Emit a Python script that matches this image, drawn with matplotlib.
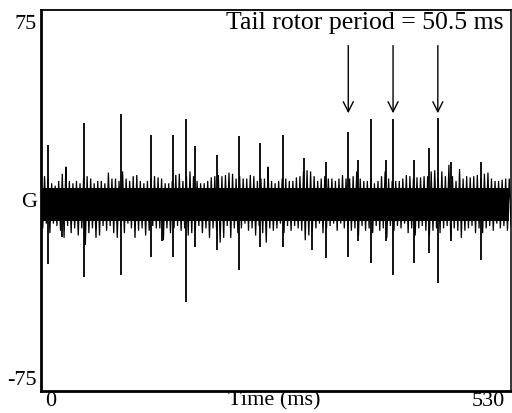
import numpy as np
import matplotlib
matplotlib.use("Agg")
import matplotlib.pyplot as plt
from matplotlib.transforms import ScaledTranslation

# ---- recorded signal (amplitude units, time in ms) ----
# background noise: upper / lower extent every 4 ms
noise_t = np.arange(0, 529, 4)
noise_hi = [9, 10, 9, 7, 6, 8, 11, 14, 8, 7, 8, 7, 9, 10, 9, 7, 8, 8, 7, 11.5,
            9, 9, 8, 12, 9, 8, 10, 10.5, 8, 7, 8, 9, 10,
            9.5, 9, 7, 7, 8, 10.5, 11, 8, 10, 12, 10, 8, 7, 7, 8, 9.5, 10, 10.5,
            10, 10.5, 11.5, 11, 9, 10, 9, 9, 10.5, 10, 8, 9, 9, 14, 8,
            7, 8, 9, 9, 8, 8, 9.5, 10, 12, 12.5, 12, 10, 8, 9, 10, 9, 9, 8, 9,
            10.5, 9, 9, 10, 12, 9, 8, 8, 9, 7, 8, 10, 12, 9,
            8, 8, 8, 9, 10.5, 10, 9, 9.5, 9.5, 10, 10, 12, 12.5, 9, 12, 10, 14.8,
            10, 8, 13, 9, 10, 9.5, 10, 10.5, 9, 11, 11.5, 9, 8, 8, 8.5, 9, 9]
noise_lo = [-12, -10, -14, -10, -11, -13, -16, -11, -14, -12, -15, -12, -19,
            -14, -12, -16, -15, -11, -13, -11, -14, -16, -11, -14, -10, -12,
            -16, -13, -12, -15, -13, -11, -12,
            -12, -17, -12, -14, -12, -11, -13, -12, -15, -14, -13, -11, -14,
            -12, -16, -12, -13, -18, -16, -11, -16, -12, -14, -12, -10, -13,
            -12, -15, -11, -14, -18, -12, -13,
            -12, -10, -14, -11, -13, -11, -12, -13, -17, -15, -13, -12, -10,
            -14, -12, -11, -10, -13, -10, -12, -11, -13, -12, -15, -11, -13,
            -12, -14, -11, -13, -12, -16, -11,
            -13, -11, -12, -10, -14, -12, -15, -12, -11, -13, -15, -13, -12,
            -14, -12, -11, -15, -12, -13, -16, -13, -12, -11, -14, -12, -14,
            -12, -11, -13, -10, -12, -11, -13, -11]
core_top, core_bottom = 5, -9

# rotor-blade spikes: time, positive peak, negative peak
spike_t = [8, 24, 28, 49, 90, 124, 137, 148.5, 164, 173.5, 198, 223, 247.5,
           255.5, 273, 297, 306, 321, 346.5, 357.5, 372, 388.5, 397, 421, 438,
           447.5, 462.5, 496.5]
spike_hi = [23, 4, 14, 32.5, 36, 27.5, 4, 27.5, 34, 22.5, 19, 27, 24, 14,
            27.5, 17.5, 4, 16, 28.5, 17, 34, 17, 34, 17, 22, 34.5, 16, 16]
spike_lo = [-27, -15.5, -8, -32.5, -31.5, -24, -17.5, -24, -43, -20, -21,
            -29.5, -20, -8, -20, -8, -21, -24.5, -24, -17.5, -26.5, -17.5,
            -31.5, -26.5, -22.5, -35, -17.5, -25.5]

# tail-rotor spikes marked with arrows
arrow_t = [346.5, 397, 447.5]
arrow_top, arrow_tip = 65, 36.5

ytick_pos = [75, 0, -75]
ytick_lab = ["75", "G", "-75"]
x_min, x_max = 0, 530
title_text = "Tail rotor period = 50.5 ms"

serif = "Liberation Serif"
fs = 16

fig = plt.figure(figsize=(5.12, 4.13), dpi=100)
ax = fig.add_axes([41 / 512, 22 / 413, 470 / 512, 381 / 413])

# signal trace: each 4 ms step swings from its upper to its lower extent
trace_t = np.empty(2 * len(noise_t))
trace_t[0::2] = noise_t
trace_t[1::2] = noise_t + 2
trace_v = np.empty(2 * len(noise_t))
trace_v[0::2] = noise_hi
trace_v[1::2] = noise_lo

ax.fill_between(noise_t, core_bottom, core_top, color="black", lw=0)
ax.plot(trace_t, trace_v, color="black", lw=0.9, solid_joinstyle="miter")
ax.vlines(spike_t, spike_lo, spike_hi, color="black", lw=1.3)

# arrows
for t in arrow_t:
    ax.annotate("", xy=(t, arrow_tip), xytext=(t, arrow_top),
                arrowprops=dict(arrowstyle="->", color="black", lw=1.0,
                                mutation_scale=18, shrinkA=0, shrinkB=0))

ax.text(521, 74.5, title_text, ha="right", va="center",
        family=serif, fontsize=18.5)

ax.set_xlim(x_min, x_max)
ax.set_ylim(-80.5, 80)

ax.set_yticks(ytick_pos)
ax.set_yticklabels(ytick_lab, family=serif, fontsize=fs)
ax.tick_params(axis="y", length=0, pad=3)

ax.set_xticks([x_min, x_max])
ax.set_xticklabels([str(x_min), str(x_max)], family=serif, fontsize=fs)
ax.tick_params(axis="x", length=0, pad=1)
xl = ax.get_xticklabels()
xl[0].set_ha("left")
xl[0].set_transform(xl[0].get_transform() + ScaledTranslation(4 / 100, 0, fig.dpi_scale_trans))
xl[1].set_ha("right")
xl[1].set_transform(xl[1].get_transform() + ScaledTranslation(-6 / 100, 0, fig.dpi_scale_trans))

fig.text(274 / 512, 1 - 401 / 413, "Time (ms)", ha="center", va="center",
         family=serif, fontsize=fs)

for side, w in (("left", 2.0), ("bottom", 2.0), ("top", 1.3), ("right", 1.1)):
    ax.spines[side].set_linewidth(w)

fig.savefig("out.png", dpi=100)
